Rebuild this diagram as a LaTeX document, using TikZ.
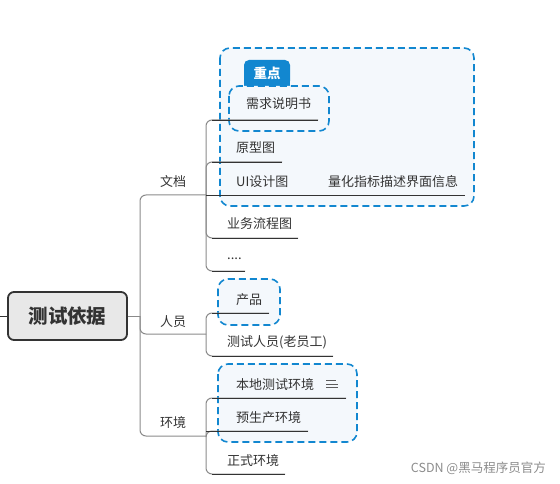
\documentclass[tikz,border=0pt]{standalone}
\usepackage{fontspec}
\setmainfont{Noto Sans CJK SC}
\usetikzlibrary{calc}
\definecolor{hlblue}{HTML}{1287D0}
\definecolor{hlfill}{HTML}{F4F8FC}
\definecolor{txt}{HTML}{333333}
\definecolor{trunk}{HTML}{8A8A8A}
\definecolor{uline}{HTML}{333333}
\tikzset{
  lbl/.style={font=\fontsize{13}{15}\selectfont, text=txt, inner sep=0pt, anchor=west},
  hlbox/.style={draw=hlblue, line width=1.6pt, dash pattern=on 7pt off 4pt, fill=hlfill, rounded corners=10pt},
  vbranch/.style={draw=trunk, line width=1pt, rounded corners=6pt},
  ubranch/.style={draw=uline, line width=0.8pt},
}
\begin{document}
\begin{tikzpicture}[x=1pt,y=-1pt]
\useasboundingbox (0,0) rectangle (560,484);
% highlight boxes (background)
\draw[hlbox] (220,48) rectangle (474,206);
\draw[hlbox] (218,279) rectangle (280,325);
\draw[hlbox] (218,364) rectangle (357,442);
\fill[hlblue, rounded corners=5pt] (244,86) -- (244,60) -- (290,60) -- (290,86) -- cycle;
\fill[hlblue] (244,80) rectangle (290,86);
\node[font=\fontsize{13.5}{15}\selectfont\bfseries, text=white, inner sep=0pt] (tag) at (267,73.5) {重点};
\draw[hlbox] (229,86) rectangle (329,131);

% root
\node[draw=txt, line width=1.8pt, fill=black!9, rounded corners=6pt, minimum width=119pt, minimum height=48pt, font=\fontsize{19.5}{22}\selectfont\bfseries, text=txt] (root) at (67.5,316) {测试依据};
\coordinate (lstub) at (0,316);
\coordinate (rj) at (140,316);
\draw[ubranch] (lstub) -- (root.west);
\draw[draw=trunk, line width=1pt] (root.east) -- (rj);

% main branch end coordinates
\coordinate (docj) at (206,195);
\coordinate (perj) at (206,334);
\coordinate (envj) at (206,436);
\draw[vbranch] (rj) |- (docj);
\draw[vbranch] (rj) |- (perj);
\draw[vbranch] (rj) |- (envj);
\node[lbl] (doc) at (160,182) {文档};
\node[lbl] (per) at (160,322) {人员};
\node[lbl] (env) at (160,423) {环境};

% 文档 children
\coordinate (d1) at (318,120);
\coordinate (d2) at (282,162);
\coordinate (d3) at (465,195);
\coordinate (d4) at (298,238);
\coordinate (d5) at (245,271);
\foreach \c in {d1,d2,d4,d5} \draw[vbranch] (docj) |- (\c);
\draw[ubranch] (docj) -- (d3);
\draw[ubranch] (212,120) -- (d1);
\draw[ubranch] (212,162) -- (d2);
\draw[ubranch] (212,238) -- (d4);
\draw[ubranch] (212,271) -- (d5);
\node[lbl] (n1) at (246,104) {需求说明书};
\node[lbl] (n2) at (236,148) {原型图};
\node[lbl] (n3) at (236,182) {UI设计图};
\node[lbl] (n3b) at (328,182) {量化指标描述界面信息};
\node[lbl] (n4) at (227,224) {业务流程图};
\node[lbl] (n5) at (227,259) {....};

% 人员 children
\coordinate (p1) at (269,313);
\coordinate (p2) at (333,356);
\draw[vbranch] (perj) |- (p1);
\draw[vbranch] (perj) |- (p2);
\draw[ubranch] (212,313) -- (p1);
\draw[ubranch] (212,356) -- (p2);
\node[lbl] (m1) at (236,300) {产品};
\node[lbl] (m2) at (227,342) {测试人员(老员工)};

% 环境 children
\coordinate (e1) at (346,398);
\coordinate (e2) at (308,431);
\coordinate (e3) at (285,474);
\draw[vbranch] (envj) |- (e1);
\draw[vbranch] (envj) |- (e2);
\draw[vbranch] (envj) |- (e3);
\draw[ubranch] (212,398) -- (e1);
\draw[ubranch] (206,431) -- (e2);
\draw[ubranch] (212,474) -- (e3);
\node[lbl] (k1) at (236,385) {本地测试环境};
\node[lbl] (k2) at (236,418) {预生产环境};
\node[lbl] (k3) at (227,461) {正式环境};
% note icon
\node[inner sep=0pt, minimum width=12pt, minimum height=9pt] (icon) at (332,384) {};
\draw[txt!80, line width=0.9pt] ($(icon.center)+(-6,-3.5)$) -- ++(10,0);
\draw[txt!80, line width=0.9pt] ($(icon.center)+(-6,0)$) -- ++(12,0);
\draw[txt!80, line width=0.9pt] ($(icon.center)+(-6,3.5)$) -- ++(12,0);

% watermark
\node[font=\fontsize{12.5}{14}\selectfont, text=black!45, inner sep=0pt, anchor=east] (wm) at (546,468) {CSDN @黑马程序员官方};
\end{tikzpicture}
\end{document}
